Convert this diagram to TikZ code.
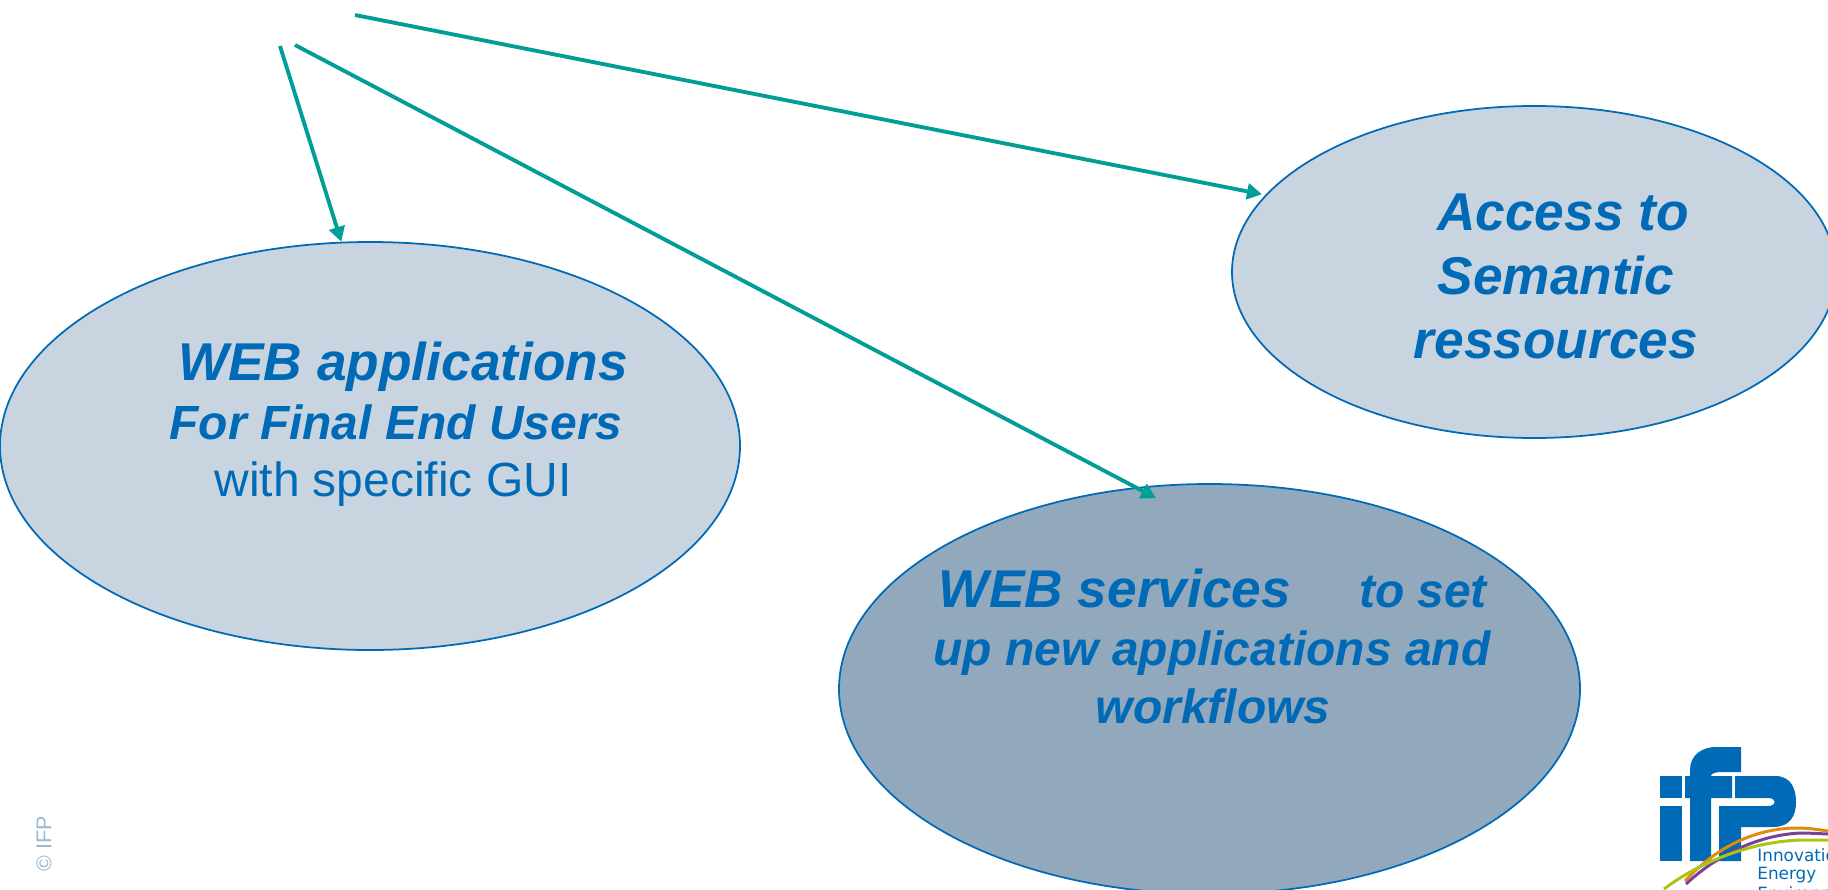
\documentclass[tikz,border=0pt]{standalone}
\usepackage{fontspec}
\setmainfont{Liberation Sans}
\newfontfamily\logofont{DejaVu Sans}
\usetikzlibrary{positioning,shapes.geometric,arrows.meta}
\definecolor{ifpblue}{HTML}{006AB6}
\definecolor{ifpteal}{HTML}{009E96}
\definecolor{palebubble}{HTML}{C8D4DF}
\definecolor{darkbubble}{HTML}{92A9BD}
\definecolor{copyblue}{HTML}{9DB7CF}
\definecolor{swooshorange}{HTML}{E08A10}
\definecolor{swooshpurple}{HTML}{7B3F98}
\definecolor{swooshgreen}{HTML}{A8C514}
\tikzset{
	bubble/.style={ellipse, draw=ifpblue, line width=1pt, inner sep=0pt},
	biglabel/.style={text=ifpblue, inner sep=0pt, font=\fontsize{30.3}{36}\selectfont\bfseries\itshape},
	smalllabel/.style={text=ifpblue, inner sep=0pt, font=\fontsize{27.3}{33}\selectfont\bfseries\itshape},
	plainlabel/.style={text=ifpblue, inner sep=0pt, font=\fontsize{27.3}{33}\selectfont},
	logolabel/.style={text=ifpblue, inner sep=0pt, anchor=west, font=\fontsize{9.6}{12}\selectfont\logofont},
	link/.style={draw=ifpteal, line width=2.2pt, -{Triangle[length=8.5pt,width=9pt]}},
	swoosh/.style={line width=1.7pt}
}

\begin{document}
\begin{tikzpicture}[x=0.02cm, y=-0.02cm]
\useasboundingbox (0,0) rectangle (1828,889);

\node[bubble, fill=palebubble, minimum width=740*0.02cm, minimum height=408*0.02cm] (webapps) at (370,446) {};
\node[bubble, fill=palebubble, minimum width=604*0.02cm, minimum height=332*0.02cm] (semantic) at (1534,272) {};
\node[bubble, fill=darkbubble, minimum width=741*0.02cm, minimum height=410*0.02cm] (webservices) at (1209.5,689) {};

\node[biglabel] (appsone) at (403,367) {WEB applications};
\node[smalllabel] (appstwo) at (396,422) {For Final End Users};
\node[plainlabel] (appsthree) at (393,484) {with specific GUI};

\node[biglabel] (semone) at (1563,212) {Access to};
\node[biglabel] (semtwo) at (1556,275) {Semantic};
\node[biglabel] (semthree) at (1556,344) {ressources};

\node[biglabel] (wsone) at (1115,588) {WEB services};
\node[smalllabel] (wsset) at (1423,592) {to set};
\node[smalllabel] (wstwo) at (1212,653) {up new applications and};
\node[smalllabel] (wsthree) at (1213,706) {workflows};

\coordinate (fromapps) at (280,46);
\coordinate (fromservices) at (295,45);
\coordinate (fromsemantic) at (355,15);
\coordinate (intoservices) at (1156,498);

\draw
	(fromapps) edge[link] (webapps.98.6)
	(fromservices) edge[link] (intoservices)
	(fromsemantic) edge[link, shorten >=2pt] (semantic.164.4)
;

\node[rotate=90, text=copyblue, inner sep=0pt, font=\fontsize{12.2}{15}\selectfont] (copyright) at (44,844) {© IFP};

\fill[ifpblue] (1660,776) rectangle (1682,798);
\fill[ifpblue] (1660,806) rectangle (1682,861);
\fill[ifpblue] (1690,861) -- (1690,798) -- (1685,798) -- (1685,776) -- (1690,776) -- (1690,770) .. controls (1690,755) and (1702,747) .. (1716,747) -- (1741,747) -- (1741,772) -- (1722,772) .. controls (1714,772) and (1711,774) .. (1711,776) -- (1732,776) -- (1732,798) -- (1711,798) -- (1711,861) -- cycle;
\fill[ifpblue] (1735,776) -- (1775,776) .. controls (1792,776) and (1796,790) .. (1796,802) .. controls (1796,816) and (1790,827) .. (1773,827) -- (1741,827) -- (1741,861) -- (1719,861) -- (1719,806) -- (1768,806) .. controls (1777,806) and (1777,798) .. (1768,798) -- (1735,798) -- cycle;

\draw[swoosh, swooshorange] (1685,881) .. controls (1715,848) and (1755,828) .. (1797,828) .. controls (1810,828) and (1820,830) .. (1828,831);
\draw[swoosh, swooshpurple] (1686,884) .. controls (1720,852) and (1765,833) .. (1805,833) -- (1828,834);
\draw[swoosh, swooshgreen] (1664,889) .. controls (1705,858) and (1760,840) .. (1805,840) -- (1828,840);

\node[logolabel] (logoone) at (1757,855) {Innovation};
\node[logolabel] (logotwo) at (1757,875) {Energy};
\node[logolabel] (logothree) at (1757,893) {Environment};
\end{tikzpicture}
\end{document}
